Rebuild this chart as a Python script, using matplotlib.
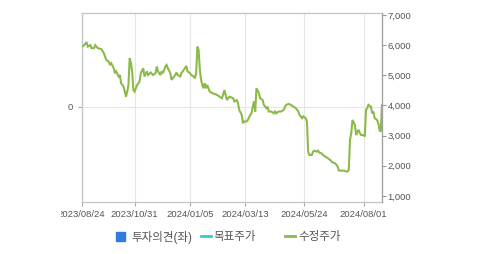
import matplotlib
matplotlib.use("Agg")
import matplotlib.pyplot as plt
from matplotlib.patches import Patch
from matplotlib.lines import Line2D
from matplotlib.ticker import FuncFormatter
from matplotlib.transforms import Bbox

plt.rcParams['font.family'] = ['Liberation Sans', 'Noto Sans CJK KR', 'DejaVu Sans']

# trading-day index since 2023/08/24, adjusted price (수정주가)
days = [0, 2, 4, 5, 7, 8, 10, 11, 13, 16, 18, 20, 22, 23, 24, 26, 27, 28, 30, 31,
        32, 34, 35, 36, 37, 38, 39, 40, 41, 42, 43, 45, 47, 48, 50, 51, 53, 54, 56, 58,
        60, 61, 62, 64, 65, 66, 68, 69, 70, 72, 73, 74, 76, 77, 78, 80, 81, 83, 85, 86,
        88, 89, 91, 92, 93, 94, 95, 96, 97, 98, 99, 100, 101, 102, 104, 106, 108, 110, 112, 114,
        116, 117, 118, 120, 123, 124, 126, 127, 128, 130, 131, 132, 134, 135, 137, 138, 139, 140, 141, 142,
        144, 145, 147, 148, 150, 151, 152, 154, 156, 157, 158, 160, 162, 164, 166, 168, 170, 172, 174, 176,
        177, 179, 180, 182, 183, 184, 185, 187, 188, 189, 191, 192, 193, 195, 196, 197, 199, 200, 202, 203,
        204, 206, 207, 208, 209, 211, 213, 215, 216, 217, 218, 219, 220, 222, 223, 224, 225, 226, 227, 229,
        230, 231, 232, 233, 235, 236, 237, 238, 240, 241, 242, 243, 244]
price = [5950, 6000, 6100, 5950, 6000, 5900, 5900, 6000, 5900, 5870, 5730, 5510, 5450, 5340, 5400, 5235, 5070, 5130, 4960, 5010,
         4740, 4630, 4460, 4290, 4460, 4680, 5570, 5400, 5130, 4510, 4460, 4680, 4790, 5070, 5230, 4960, 5130, 5010, 5090, 5010,
         5070, 5290, 5130, 5010, 5130, 5070, 5290, 5340, 5235, 5070, 4850, 4900, 5010, 5090, 5010, 4960, 5070, 5180, 5310, 5130,
         5070, 5010, 4960, 4900, 5070, 5950, 5840, 5180, 4850, 4680, 4570, 4740, 4570, 4680, 4460, 4410, 4380, 4350, 4290, 4240,
         4510, 4350, 4180, 4290, 4240, 4130, 4180, 4070, 3850, 3690, 3410, 3470, 3470, 3520, 3690, 3740, 3960, 4130, 3800, 4570,
         4410, 4240, 4180, 4020, 3910, 3960, 3800, 3800, 3740, 3800, 3740, 3800, 3800, 3850, 4020, 4050, 4020, 3960, 3910, 3800,
         3690, 3580, 3640, 3580, 3470, 2470, 2360, 2360, 2470, 2500, 2470, 2500, 2440, 2410, 2360, 2330, 2280, 2250, 2190, 2140,
         2110, 2080, 2030, 1970, 1840, 1840, 1840, 1810, 1810, 1860, 2860, 3080, 3520, 3350, 3020, 3130, 3190, 3080, 3020, 3020,
         2970, 3850, 3910, 4020, 3960, 3740, 3800, 3580, 3520, 3410, 3190, 3130, 4020]

tick_days = [0, 43, 88, 133, 181, 229]
tick_labels = ["2023/08/24", "2023/10/31", "2024/01/05", "2024/03/13", "2024/05/24", "2024/08/01"]
right_ticks = [1000, 2000, 3000, 4000, 5000, 6000, 7000]

legend_labels = ["투자의견(좌)", "목표주가", "수정주가"]
green = "#8cba4a"
blue = "#2f7be0"
cyan = "#3cc3d3"
tick_color = "#555555"

W, H = 479, 254
fig = plt.figure(figsize=(W / 100, H / 100), dpi=100)
ax = fig.add_axes([81.7 / W, 52 / H, (382 - 81.7) / W, 189 / H])
ax.set_xlim(0, 244)
ax.set_ylim(-1.01, 0.99)
ax.set_yticks([0])
ax.set_yticklabels(["0"])
ax.set_xticks(tick_days)
ax.set_xticklabels(tick_labels)
ax.grid(True, color="#e6e6e6", linewidth=0.8)
ax.set_axisbelow(True)
for s in ax.spines.values():
    s.set_color("#c8c8c8")
    s.set_linewidth(1.0)
ax.tick_params(axis="both", colors="#aaaaaa", labelcolor=tick_color, labelsize=6.8,
               length=3, width=0.8)
ax.tick_params(axis="x", pad=3)

ax2 = ax.twinx()
ax2.set_ylim(800, 7065)
ax2.set_yticks(right_ticks)
ax2.yaxis.set_major_formatter(FuncFormatter(lambda v, p: f"{int(v):,}"))
ax2.tick_params(axis="y", colors="#999999", labelcolor=tick_color, labelsize=6.8,
                length=3, width=0.8, pad=1)
for s in ax2.spines.values():
    s.set_visible(False)
ax2.spines["right"].set_visible(True)
ax2.spines["right"].set_color("#a0a0a0")
ax2.plot(days, price, color=green, linewidth=1.5, solid_joinstyle="miter")

fig.canvas.draw()
first = ax.get_xticklabels()[0]
first.set_clip_box(Bbox.from_extents(61, 0, W, H))
first.set_clip_on(True)

# legend entries, each placed where the reference shows it
handles = [Patch(facecolor=blue, edgecolor=blue),
           Line2D([], [], color=cyan, linewidth=2),
           Line2D([], [], color=green, linewidth=2)]
entry_left = [116, 201, 285]
text_pad = [0.55, 0.25, 0.35]
hlen = [0.8, 0.85, 0.85]
for h, lab, xl, tp, hl in zip(handles, legend_labels, entry_left, text_pad, hlen):
    fig.legend([h], [lab], loc="center left", bbox_to_anchor=(xl / W, 1 - 237 / H),
               frameon=False, fontsize=8.3, handlelength=hl, handleheight=0.8,
               handletextpad=tp, borderpad=0, borderaxespad=0, labelcolor="#555555")

fig.savefig("out.png", dpi=100)
